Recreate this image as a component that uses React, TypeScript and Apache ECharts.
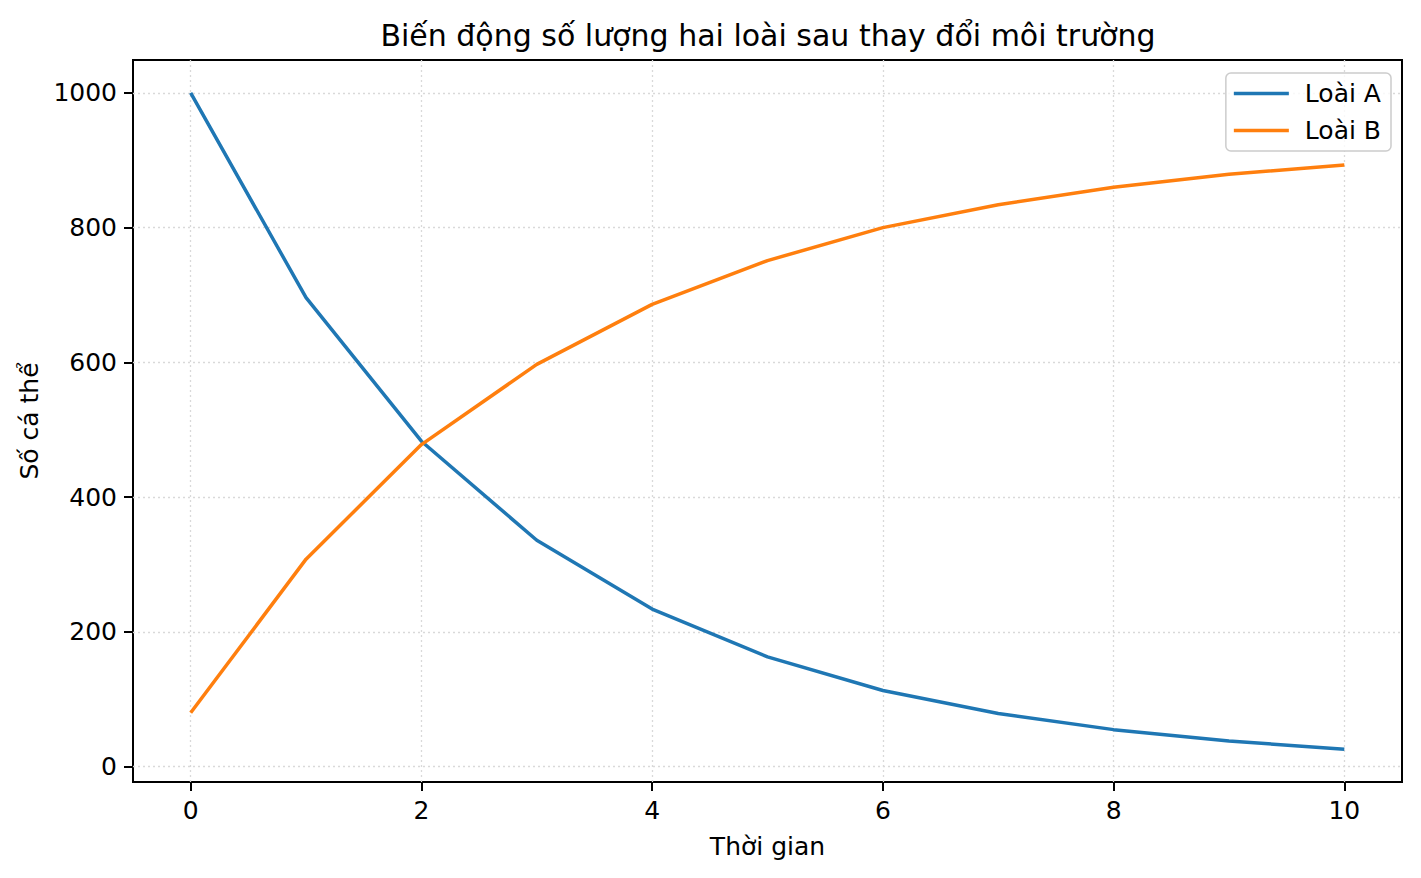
import React, { useEffect, useRef } from "react";
import * as echarts from "echarts";

const timePoints = [0, 1, 2, 3, 4, 5, 6, 7, 8, 9, 10];
const speciesA = [1000, 696, 483, 336, 234, 163, 113, 79, 55, 38, 26];
const speciesB = [80, 308, 478, 597, 686, 751, 800, 834, 860, 879, 893];
const seriesNames = ["Loài A", "Loài B"];
const seriesColors = ["#1f77b4", "#ff7f0e"];
const xTicks = [0, 2, 4, 6, 8, 10];
const yTicks = [0, 200, 400, 600, 800, 1000];
const titleText = "Biến động số lượng hai loài sau thay đổi môi trường";
const xLabel = "Thời gian";
const yLabel = "Số cá thể";

const FONT = "'DejaVu Sans', 'Noto Sans', sans-serif";

function App() {
  const ref = useRef<HTMLDivElement>(null);

  useEffect(() => {
    if (!ref.current) return;
    const chart = echarts.init(ref.current, null, { renderer: "svg" });

    const xLo = Math.min(...timePoints);
    const xHi = Math.max(...timePoints);
    const xPad = (xHi - xLo) * 0.05;
    const allY = [...speciesA, ...speciesB];
    const yLo = Math.min(...allY);
    const yHi = Math.max(...allY);
    const yPad = (yHi - yLo) * 0.05;

    const seriesData = [speciesA, speciesB];
    const gridLine = { show: true, lineStyle: { color: "#d9d9d9", type: [2, 3], width: 1.3 } };

    chart.setOption({
      animation: false,
      backgroundColor: "#ffffff",
      title: {
        text: titleText,
        left: 768,
        top: 20,
        textAlign: "center",
        padding: 0,
        textStyle: { fontFamily: FONT, fontSize: 30, fontWeight: "normal", color: "#000" },
      },
      grid: {
        left: 133,
        right: 19,
        top: 60,
        bottom: 96,
        show: true,
        borderColor: "#000",
        borderWidth: 2,
        backgroundColor: "transparent",
      },
      legend: {
        orient: "vertical",
        right: 30,
        top: 73,
        data: seriesNames.map((n) => ({ name: n, icon: "rect" })),
        itemWidth: 55,
        itemHeight: 3.5,
        itemGap: 12,
        textStyle: { fontFamily: FONT, fontSize: 25, color: "#000", lineHeight: 25, padding: [0, 0, 0, 11] },
        padding: [8, 10, 8, 8],
        backgroundColor: "rgba(255,255,255,0.8)",
        borderColor: "#cccccc",
        borderWidth: 1.5,
        borderRadius: 5,
      },
      xAxis: {
        type: "value",
        min: xLo - xPad,
        max: xHi + xPad,
        name: xLabel,
        nameLocation: "middle",
        nameGap: 52,
        nameTextStyle: { fontFamily: FONT, fontSize: 25, color: "#000" },
        axisLine: { show: false, onZero: false },
        axisTick: { show: true, inside: false, length: 9, lineStyle: { color: "#000", width: 2 }, customValues: xTicks },
        axisLabel: {
          fontFamily: FONT, fontSize: 25, color: "#000", margin: 16, customValues: xTicks,
          formatter: (v: number) => String(v),
        },
        splitLine: gridLine,
      },
      yAxis: {
        type: "value",
        min: yLo - yPad,
        max: yHi + yPad,
        name: yLabel,
        nameLocation: "middle",
        nameGap: 86,
        nameTextStyle: { fontFamily: FONT, fontSize: 25, color: "#000" },
        axisLine: { show: false, onZero: false },
        axisTick: { show: true, inside: false, length: 9, lineStyle: { color: "#000", width: 2 }, customValues: yTicks },
        axisLabel: {
          fontFamily: FONT, fontSize: 25, color: "#000", margin: 16, customValues: yTicks,
          formatter: (v: number) => String(v),
        },
        splitLine: gridLine,
      },
      series: seriesNames.map((name, i) => ({
        name,
        type: "line",
        data: timePoints.map((t, j) => [t, seriesData[i][j]]),
        showSymbol: false,
        symbol: "none",
        color: seriesColors[i],
        lineStyle: { color: seriesColors[i], width: 3.5 },
      })),
    });

    return () => chart.dispose();
  }, []);

  return (
    <div
      ref={ref}
      style={{ position: "fixed", left: 0, top: 0, width: 1421, height: 878, background: "#fff" }}
    />
  );
}

export default App;
